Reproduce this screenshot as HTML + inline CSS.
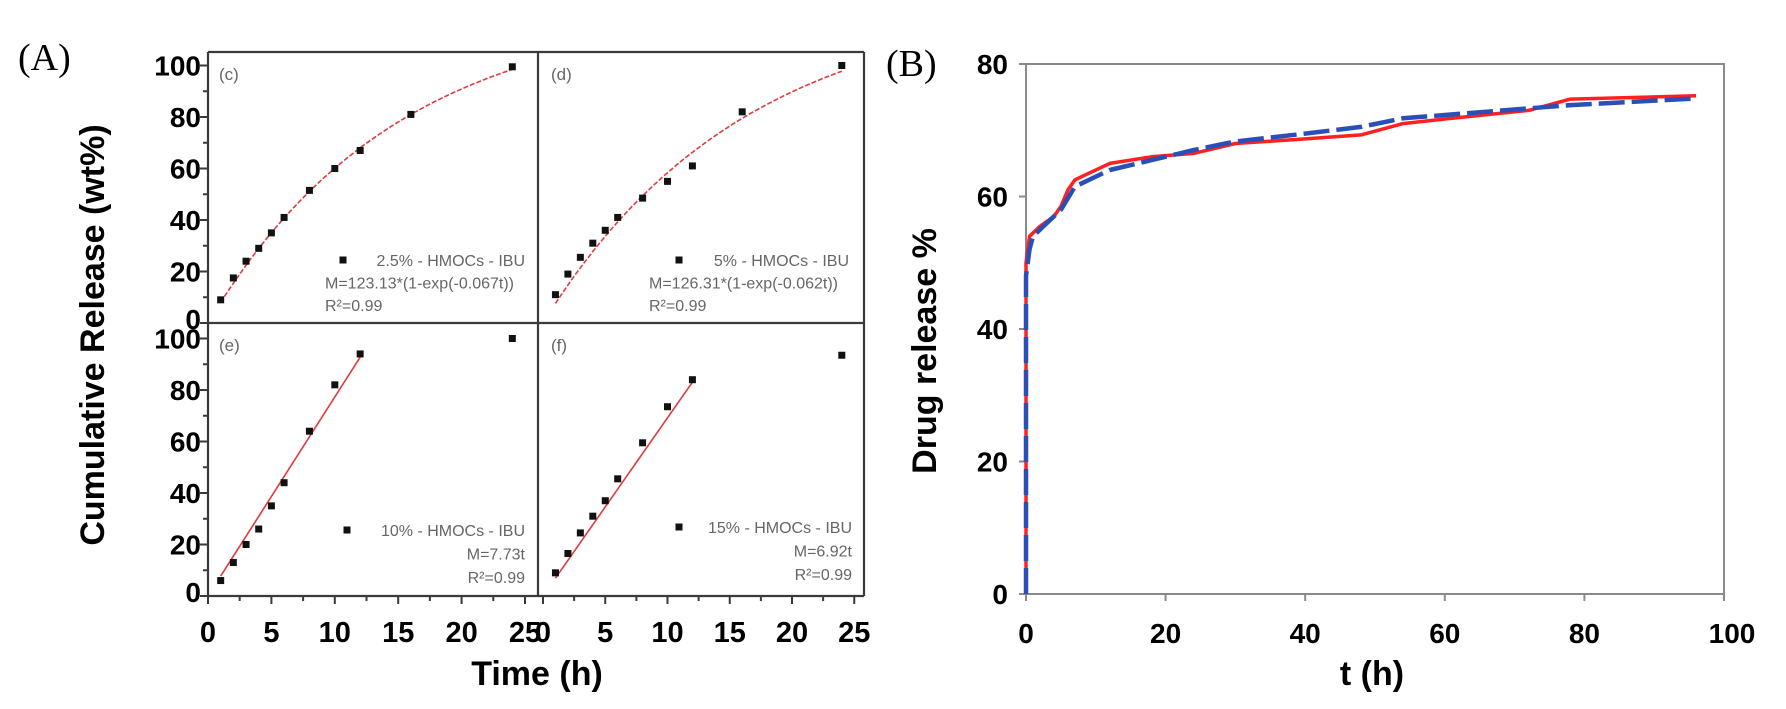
<!DOCTYPE html>
<html><head><meta charset="utf-8"><style>
html,body{margin:0;padding:0;background:#fff;}
svg{display:block;font-family:"Liberation Sans",Arial,sans-serif;}
</style></head><body>
<svg id="fig" width="1786" height="709" viewBox="0 0 1786 709" xmlns="http://www.w3.org/2000/svg">
<text x="18" y="70" font-family="Liberation Serif,serif" font-size="38">(A)</text>
<text x="886" y="76" font-family="Liberation Serif,serif" font-size="38">(B)</text>
<g id="A"></g>
<g id="B"></g>
</svg>
<script>
// ---------- Panel A data ----------
const tC = [1,2,3,4,5,6,8,10,12,16,24];
const yC = [9,17.5,24,29,35,41,51.5,60,67,81,99.5];
const fitC = [123.13,0.067];
const tD = [1,2,3,4,5,6,8,10,12,16,24];
const yD = [11,19,25.5,31,36,41,48.5,55,61,82,100];
const fitD = [126.31,0.062];
const tE = [1,2,3,4,5,6,8,10,12,24];
const yE = [6,13,20,26,35,44,64,82,94,100];
const fitE = [7.73];
const tF = [1,2,3,4,5,6,8,10,12,24];
const yF = [9,16.5,24.5,31,37,45.5,59.5,73.5,84,93.5];
const fitF = [6.92];
const aTicksY = [0,20,40,60,80,100];
const aTicksX = [0,5,10,15,20,25];
// ---------- Panel B data ----------
const tRed = [0,0,0.5,2,4,5,6,7,8,12,18,24,30,40,48,54,60,72,78,96];
const yRed = [0,50,54,55.5,57,58.5,61,62.5,63,65,66,66.5,68,68.7,69.3,71,71.7,73,74.7,75.2];
const tBlue = [0,0,0.5,1,3,5,7,10,12,18,24,30,40,48,54,72,78,96];
const yBlue = [0,48,52,54,56,58,61.5,63,64,65.5,67,68.3,69.5,70.5,71.8,73.3,73.8,74.8];
const bTicksY = [0,20,40,60,80];
const bTicksX = [0,20,40,60,80,100];

const NS="http://www.w3.org/2000/svg";
function mk(parent,tag,attrs,txt){const e=document.createElementNS(NS,tag);for(const k in attrs)e.setAttribute(k,attrs[k]);if(txt!==undefined)e.textContent=txt;parent.appendChild(e);return e;}

const A=document.getElementById('A');
const L=208,M=538,R=864,T=52,MID=323,BOT=596;
const subs=[
 {name:'c',x0:208,y0:323,sx:12.68,x1:M,top:T,t:tC,y:yC,fit:'exp',p:fitC,leg:['2.5% - HMOCs - IBU','M=123.13*(1-exp(-0.067t))','R²=0.99'],mx:343,tr:525,ly:260},
 {name:'d',x0:543,y0:323,sx:12.45,x1:R,top:T,t:tD,y:yD,fit:'exp',p:fitD,leg:['5% - HMOCs - IBU','M=126.31*(1-exp(-0.062t))','R²=0.99'],mx:679,tr:849,ly:260},
 {name:'e',x0:208,y0:596,sx:12.68,x1:M,top:MID,t:tE,y:yE,fit:'lin',p:fitE,leg:['10% - HMOCs - IBU','M=7.73t','R²=0.99'],mx:347,tr:525,ly:530},
 {name:'f',x0:543,y0:596,sx:12.45,x1:R,top:MID,t:tF,y:yF,fit:'lin',p:fitF,leg:['15% - HMOCs - IBU','M=6.92t','R²=0.99'],mx:679,tr:852,ly:527}
];
const sy=2.575;
subs.forEach(s=>{
  const g=mk(A,'g',{});
  
  
  const X=v=>s.x0+v*s.sx, Y=v=>s.y0-v*sy;
  let pts=[];
  if(s.fit==='exp'){for(let i=0;i<=60;i++){const t=1+23*i/60;pts.push(X(t).toFixed(1)+','+Y(s.p[0]*(1-Math.exp(-s.p[1]*t))).toFixed(1));}}
  else{pts=[X(1)+','+Y(s.p[0]*1),X(12)+','+Y(s.p[0]*12)];}
  const fl=mk(g,'polyline',{points:pts.join(' '),fill:'none',stroke:'#e0393e','stroke-width':1.6,'stroke-dasharray':s.fit==='exp'?'5,2':'none'});
  
  
  s.t.forEach((t,i)=>{
    const r=mk(g,'rect',{x:X(t)-3.5,y:Y(s.y[i])-3.5,width:7,height:7,fill:'#111'});
    
    
  });
  const lab=mk(g,'text',{x:(s.name==='c'||s.name==='e')?219:551,y:s.top+28,'font-size':17,fill:'#666'},'('+s.name+')');
  
  
  const mkr=mk(g,'rect',{x:s.mx-3.5,y:s.ly-3.5,width:7,height:7,fill:'#111'});
  
  
  s.leg.forEach((txt,i)=>{
    const isLin=s.fit==='lin';
    const anchorEnd = i===0 || isLin;
    const tx=mk(g,'text',{x:anchorEnd?s.tr:(s.tr-200),y:s.ly+6+i*(isLin?23.5:22.5),'font-size':16,fill:'#666','text-anchor':anchorEnd?'end':'start'},txt);
    
    
  });
});
[[L,T,R,T],[L,MID,R,MID],[L,BOT,R,BOT],[L,T,L,BOT],[M,T,M,BOT],[R,T,R,BOT]].forEach(c=>{
  const ln=mk(A,'line',{x1:c[0],y1:c[1],x2:c[2],y2:c[3],stroke:'#3a3a3a','stroke-width':2.2});
  
  
});
[323,596].forEach(y0=>{
  for(let v=0;v<=100;v+=10){const y=y0-v*sy;const tk=mk(A,'line',{x1:L-(v%20===0?8:5),y1:y,x2:L,y2:y,stroke:'#3a3a3a','stroke-width':2});
    
    }
  aTicksY.forEach(v=>{const tx=mk(A,'text',{x:201,y:y0-v*sy+(v===0?6:10),'font-size':28,'font-weight':'bold','text-anchor':'end'},String(v));
    
    });
});
[[208,12.68],[543,12.45]].forEach(([x0,sx])=>{
  for(let v=0;v<=25;v+=2.5){const x=x0+v*sx;const tk=mk(A,'line',{x1:x,y1:BOT,x2:x,y2:BOT+(v%5===0?8:5),stroke:'#3a3a3a','stroke-width':2});
    
    }
  aTicksX.forEach(v=>{const tx=mk(A,'text',{x:x0+v*sx,y:642,'font-size':29,'font-weight':'bold','text-anchor':'middle'},String(v));
    
    });
});
const yt=mk(A,'text',{x:0,y:0,'font-size':34,'font-weight':'bold','text-anchor':'middle',transform:'translate(104,335) rotate(-90)'},'Cumulative Release (wt%)');


const xt=mk(A,'text',{x:537,y:685,'font-size':34,'font-weight':'bold','text-anchor':'middle'},'Time (h)');



// ---------- Panel B ----------
const B=document.getElementById('B');
const bx0=1026,bx1=1724,by0=594,by1=64;
const BX=v=>bx0+v*(bx1-bx0)/100, BY=v=>by0-v*(by0-by1)/80;
const fr=mk(B,'rect',{x:bx0,y:by1,width:bx1-bx0,height:by0-by1,fill:'none',stroke:'#8a8a8a','stroke-width':2});


bTicksY.forEach(v=>{
  const tk=mk(B,'line',{x1:bx0-7,y1:BY(v),x2:bx0,y2:BY(v),stroke:'#8a8a8a','stroke-width':2});
  
  
  const tx=mk(B,'text',{x:1008,y:BY(v)+10,'font-size':28,'font-weight':'bold','text-anchor':'end'},String(v));
  
  
});
bTicksX.forEach(v=>{
  const tk=mk(B,'line',{x1:BX(v),y1:by0,x2:BX(v),y2:by0+7,stroke:'#8a8a8a','stroke-width':2});
  
  
  const tx=mk(B,'text',{x:BX(v)+(v===100?8:0),y:643,'font-size':28,'font-weight':'bold','text-anchor':'middle'},String(v));
  
  
});
const red=mk(B,'polyline',{points:tRed.map((t,i)=>BX(t).toFixed(1)+','+BY(yRed[i]).toFixed(1)).join(' '),fill:'none',stroke:'#ff2020','stroke-width':3.5,'stroke-linejoin':'round'});


const blue=mk(B,'polyline',{points:tBlue.map((t,i)=>BX(t).toFixed(1)+','+BY(yBlue[i]).toFixed(1)).join(' '),fill:'none',stroke:'#2a4fb8','stroke-width':4.5,'stroke-dasharray':'26,7','stroke-linejoin':'round'});


const byt=mk(B,'text',{x:0,y:0,'font-size':34,'font-weight':'bold','text-anchor':'middle',transform:'translate(936,351) rotate(-90)'},'Drug release %');


const bxt=mk(B,'text',{x:1372,y:685,'font-size':34,'font-weight':'bold','text-anchor':'middle'},'t (h)');


</script>
</body></html>
